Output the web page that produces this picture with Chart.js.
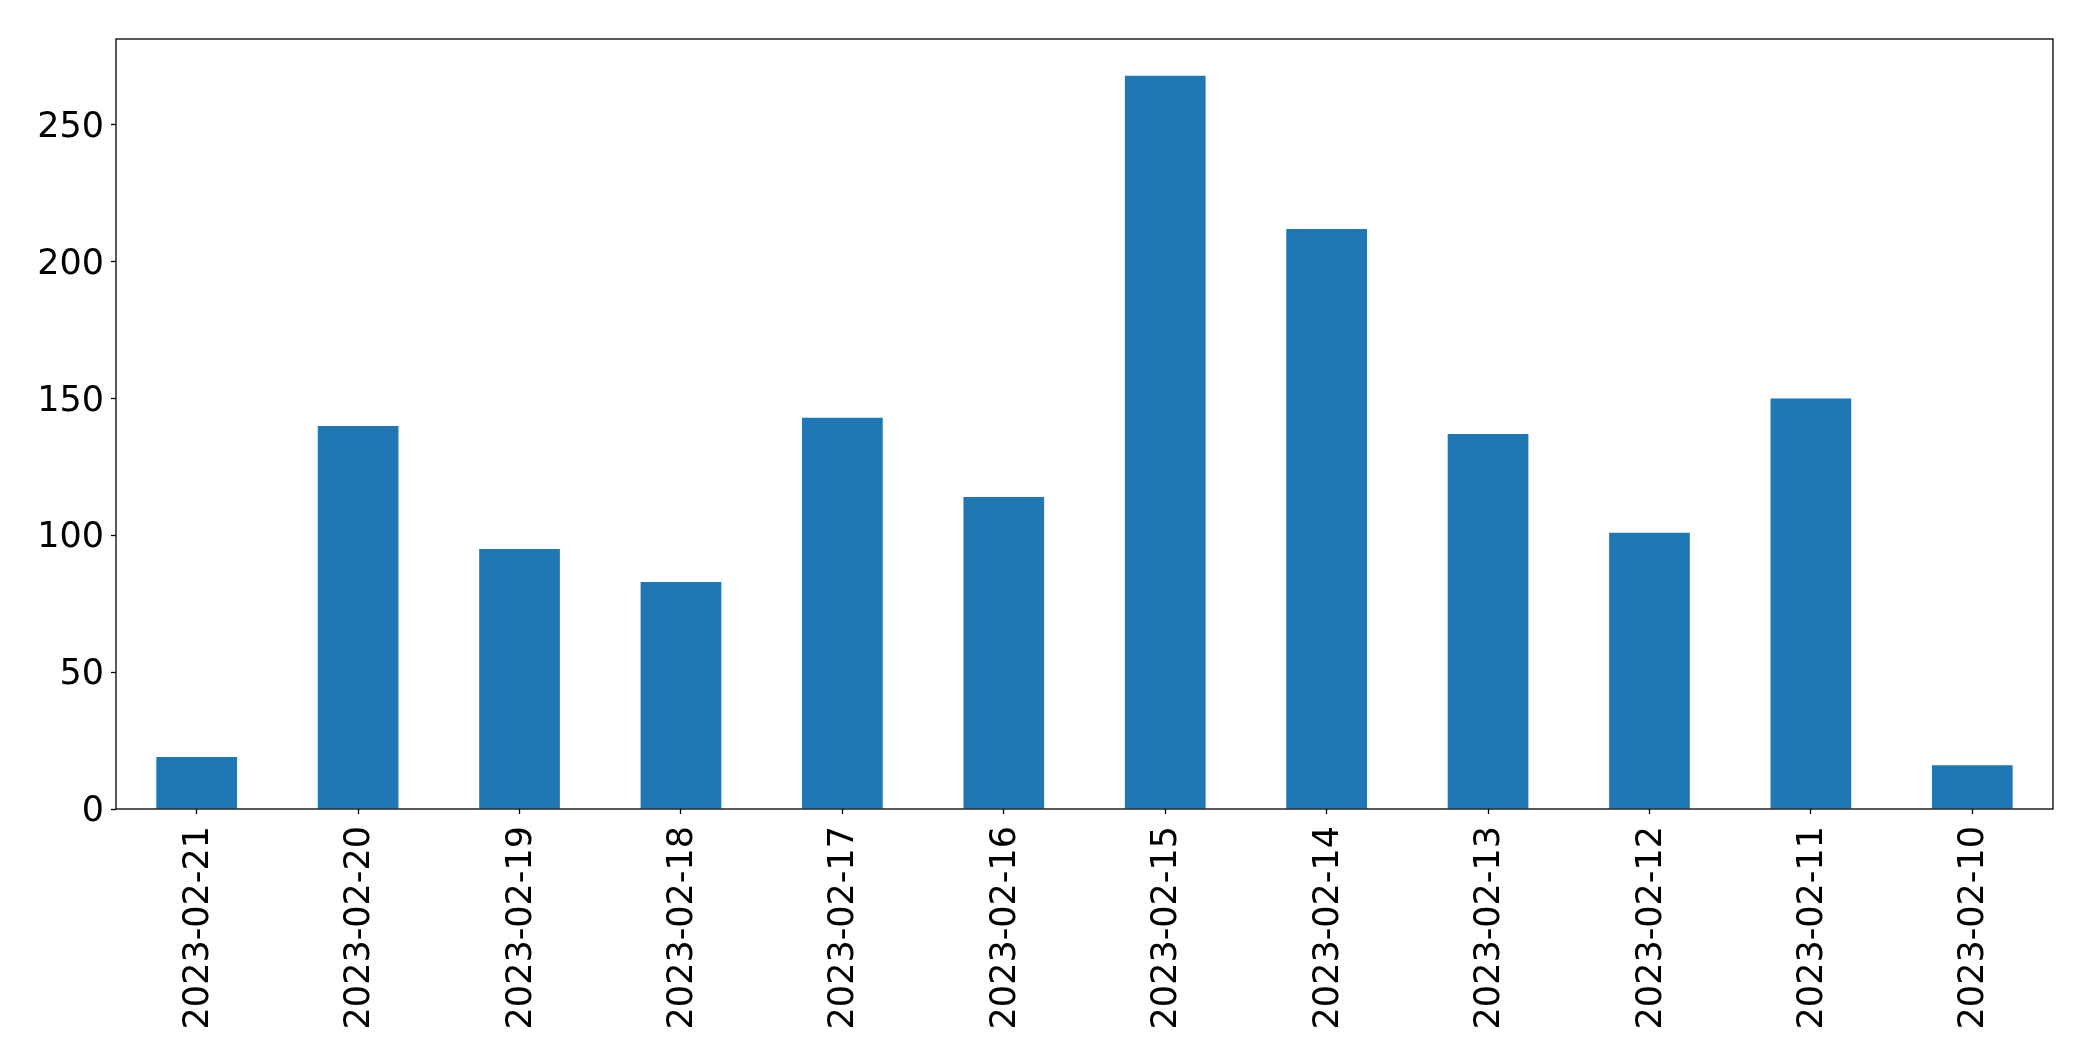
<!DOCTYPE html>
<html>
<head>
<meta charset="utf-8">
<script src="https://cdn.jsdelivr.net/npm/chart.js@4/dist/chart.umd.min.js"></script>
<style>
  html, body { margin: 0; padding: 0; background: #fff; }
  #wrap { width: 2093px; height: 1061px; }
</style>
</head>
<body>
<div id="wrap"><canvas id="barChart"></canvas></div>
<script>
let dates = ['2023-02-21', '2023-02-20', '2023-02-19', '2023-02-18', '2023-02-17', '2023-02-16',
             '2023-02-15', '2023-02-14', '2023-02-13', '2023-02-12', '2023-02-11', '2023-02-10'];
let counts = [19, 140, 95, 83, 143, 114, 268, 212, 137, 101, 150, 16];
let yTicks = [0, 50, 100, 150, 200, 250];

// box around the plot like matplotlib spines
let frame = {
    id: 'frame',
    afterDraw(chart) {
        let a = chart.chartArea;
        let c = chart.ctx;
        c.save();
        c.strokeStyle = '#000';
        c.lineWidth = 1.3;
        c.strokeRect(a.left, a.top, a.right - a.left, a.bottom - a.top);
        c.restore();
    }
};

let ctx = document.getElementById('barChart').getContext('2d');

let myChart = new Chart(ctx, {
    type: 'bar',
    data: {
        labels: dates,
        datasets: [{
            data: counts,
            backgroundColor: '#1f77b4',
            borderWidth: 0,
            barPercentage: 0.5,
            categoryPercentage: 1.0
        }]
    },
    options: {
        responsive: true,
        maintainAspectRatio: false,
        animation: false,
        layout: { padding: { top: 39, right: 40, left: 0, bottom: 0 } },
        plugins: {
            legend: { display: false },
            tooltip: { enabled: false }
        },
        scales: {
            x: {
                offset: true,
                grid: { offset: false, drawOnChartArea: false, color: '#000', tickLength: 5, tickWidth: 1.3 },
                border: { display: false },
                ticks: {
                    color: '#000',
                    font: { family: 'DejaVu Sans', size: 35 },
                    minRotation: 90,
                    maxRotation: 90,
                    padding: 12,
                    labelOffset: 2,
                    autoSkip: false
                },
                afterFit(scale) { scale.height = 252; }
            },
            y: {
                min: 0,
                max: 281.4,
                afterBuildTicks(scale) { scale.ticks = yTicks.map(v => ({ value: v })); },
                grid: { drawOnChartArea: false, color: '#000', tickLength: 5, tickWidth: 1.3 },
                border: { display: false },
                ticks: {
                    color: '#000',
                    font: { family: 'DejaVu Sans', size: 35 },
                    padding: 7,
                    labelOffset: 3
                },
                afterFit(scale) { scale.width = 116; }
            }
        }
    },
    plugins: [frame]
});
</script>
</body>
</html>
